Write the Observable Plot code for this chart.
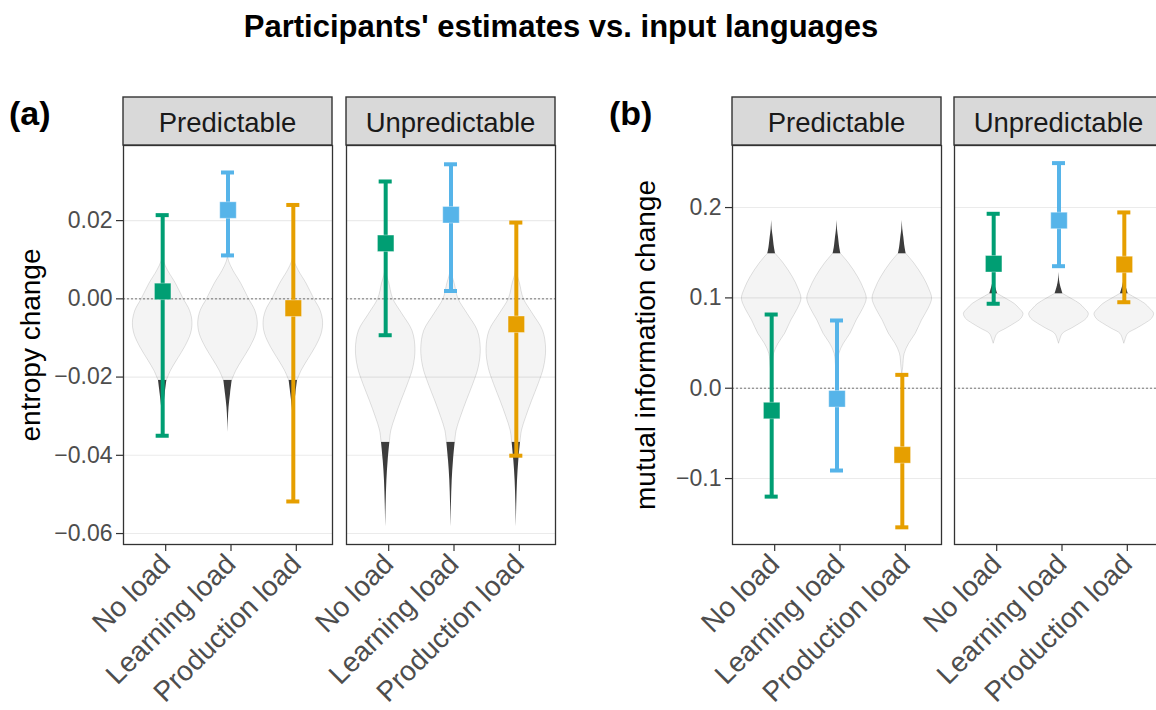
<!DOCTYPE html>
<html>
<head>
<meta charset="utf-8">
<script src="https://cdn.jsdelivr.net/npm/d3@7"></script>
<script src="https://cdn.jsdelivr.net/npm/@observablehq/plot@0.6"></script>
<style>
  body { margin: 0; background: #fff; }
  #root { position: relative; width: 1156px; height: 710px; overflow: hidden; background: #fff;
          font-family: "Liberation Sans", Arial, Helvetica, sans-serif; }
  .title { position: absolute; left: 0; width: 1122px; top: 11px; text-align: center;
           font-weight: bold; font-size: 31px; line-height: 31px; color: #000; }
  .tag { position: absolute; font-weight: bold; font-size: 34px; line-height: 34px; color: #000; }
</style>
</head>
<body>
<div id="root">
  <div class="title">Participants' estimates vs. input languages</div>
  <div class="tag" style="left:9px; top:96px;">(a)</div>
  <div class="tag" style="left:609px; top:96px;">(b)</div>
</div>
<script>
// ---------------- data ----------------
const loads = ["No load", "Learning load", "Production load"];
const loadColors = ["#009E73", "#56B4E9", "#E69F00"];
const conditions = ["Predictable", "Unpredictable"];

// panel (a): entropy change — estimates with interval ends
const entropyPredEst = [0.0019, 0.0227, -0.0024];
const entropyPredLo  = [-0.0350, 0.0111, -0.0518];
const entropyPredHi  = [0.0214, 0.0323, 0.0240];
const entropyUnpEst  = [0.0142, 0.0215, -0.0065];
const entropyUnpLo   = [-0.0093, 0.0020, -0.0401];
const entropyUnpHi   = [0.0300, 0.0344, 0.0195];

// panel (b): mutual information change
const miPredEst = [-0.0247, -0.0117, -0.0738];
const miPredLo  = [-0.1200, -0.0911, -0.1540];
const miPredHi  = [0.0816, 0.0750, 0.0148];
const miUnpEst  = [0.1378, 0.1857, 0.1370];
const miUnpLo   = [0.0935, 0.1351, 0.0952];
const miUnpHi   = [0.1931, 0.2492, 0.1946];

// input-language distributions (violins): value and relative density, body + dark tail
const entropyPredBodyY = [0.0110, 0.0095, 0.0072, 0.0038, 0.0000, -0.0031, -0.0061, -0.0090, -0.0124, -0.0158, -0.0184, -0.0209];
const entropyPredBodyW = [0, 0.04, 0.18, 0.45, 0.70, 0.92, 1.0, 0.95, 0.75, 0.48, 0.28, 0.14];
const entropyPredTailY = [-0.0209, -0.0243, -0.0278, -0.0310, -0.0342];
const entropyPredTailW = [0.14, 0.085, 0.035, 0.012, 0];

const entropyUnpBodyY = [0.0077, 0.0058, 0.0040, 0.0000, -0.0039, -0.0082, -0.0129, -0.0176, -0.0218, -0.0261, -0.0303, -0.0337, -0.0367];
const entropyUnpBodyW = [0, 0.05, 0.12, 0.25, 0.56, 0.90, 1.0, 0.93, 0.75, 0.53, 0.33, 0.19, 0.14];
const entropyUnpTailY = [-0.0367, -0.0414, -0.0465, -0.0524, -0.0584];
const entropyUnpTailW = [0.14, 0.083, 0.04, 0.015, 0];

const miPredBodyY = [0.1488, 0.1378, 0.1229, 0.1101, 0.0990, 0.0879, 0.0750, 0.0602, 0.0492, 0.0381, 0.0233, 0.0150];
const miPredBodyW = [0.13, 0.41, 0.71, 0.90, 1.0, 0.88, 0.66, 0.45, 0.23, 0.08, 0.03, 0];
const miPredTailY = [0.1860, 0.1750, 0.1672, 0.1560, 0.1488];
const miPredTailW = [0, 0.02, 0.05, 0.09, 0.13];

const miUnpBodyY = [0.1045, 0.0990, 0.0934, 0.0879, 0.0824, 0.0768, 0.0713, 0.0658, 0.0602, 0.0528, 0.0492];
const miUnpBodyW = [0.13, 0.42, 0.70, 0.87, 1.0, 0.93, 0.70, 0.42, 0.13, 0.034, 0];
const miUnpTailY = [0.1285, 0.1190, 0.1137, 0.1090, 0.1045];
const miUnpTailW = [0, 0.02, 0.05, 0.09, 0.13];

// axes
const entropyTicks = [0.02, 0.00, -0.02, -0.04, -0.06];
const entropyDomain = [-0.0628, 0.0392];
const miTicks = [0.2, 0.1, 0.0, -0.1];
const miDomain = [-0.1730, 0.2687];

// ---------------- drawing ----------------
const FONT = '"Liberation Sans", Arial, Helvetica, sans-serif';
const VIOLIN_HALF = 0.456;
const CAP_HALF = 0.1;
const PANEL_W = 209;

function estRows(est, lo, hi) {
  return loads.map((load, i) => ({load, pos: i + 1, est: est[i], lo: lo[i], hi: hi[i]}));
}
function violinRows(ys, ws) {
  return loads.flatMap((load, i) => ys.map((y, k) => ({pos: i + 1, y, w: ws[k]})));
}

function facet({cond, left, ml, showY, yLabel, labelDx, yDomain, yTicks, yFmt, rows, body, tail}) {
  const marks = [
    Plot.gridY(yTicks, {stroke: "#EBEBEB", strokeOpacity: 1, strokeWidth: 1.1}),
    Plot.areaX(body, {y: "y", x1: d => d.pos - d.w * VIOLIN_HALF, x2: d => d.pos + d.w * VIOLIN_HALF,
      z: "pos", curve: "catmull-rom", fill: "#000", fillOpacity: 0.045,
      stroke: "#000", strokeOpacity: 0.2, strokeWidth: 0.6}),
    Plot.areaX(tail, {y: "y", x1: d => d.pos - d.w * VIOLIN_HALF, x2: d => d.pos + d.w * VIOLIN_HALF,
      z: "pos", curve: "catmull-rom", fill: "#3c3c3c"}),
    Plot.ruleY([0], {stroke: "#666", strokeWidth: 0.9, strokeDasharray: "2,2"}),
    Plot.ruleX(rows, {x: "pos", y1: "lo", y2: "hi", stroke: "load", strokeWidth: 4}),
    Plot.ruleY(rows, {y: "hi", x1: d => d.pos - CAP_HALF, x2: d => d.pos + CAP_HALF, stroke: "load", strokeWidth: 4}),
    Plot.ruleY(rows, {y: "lo", x1: d => d.pos - CAP_HALF, x2: d => d.pos + CAP_HALF, stroke: "load", strokeWidth: 4}),
    Plot.dot(rows, {x: "pos", y: "est", symbol: "square", r: 9.3, fill: "load",
      stroke: "white", strokeOpacity: 0.35, strokeWidth: 1}),
    Plot.frame({stroke: "#333", strokeWidth: 1.3}),
    Plot.axisX([1, 2, 3], {tickFormat: d => loads[d - 1], tickRotate: -45, fontSize: 28,
      tickSize: 7, tickPadding: 8, dx: 3, color: "#4D4D4D", stroke: "#333", strokeWidth: 1.2, label: null})
  ];
  if (showY) {
    marks.push(
      Plot.axisY(yTicks, {tickFormat: yFmt, fontSize: 23, tickSize: 7, tickPadding: 4,
        color: "#4D4D4D", stroke: "#333", strokeWidth: 1.2, label: null}),
      Plot.text([yLabel], {text: d => d, frameAnchor: "left", textAnchor: "middle", rotate: -90, dx: labelDx,
        fontSize: 28, fill: "#000"})
    );
  }
  const svg = Plot.plot({
    width: ml + PANEL_W + 2,
    height: 710,
    marginTop: 145, marginBottom: 166, marginLeft: ml, marginRight: 2,
    x: {domain: [0.4, 3.6]},
    y: showY ? {domain: yDomain} : {domain: yDomain, axis: null},
    color: {domain: loads, range: loadColors},
    style: {background: "transparent", fontFamily: FONT, overflow: "visible"},
    marks
  });
  const s = d3.select(svg);
  s.append("rect").attr("x", ml).attr("y", 97).attr("width", PANEL_W).attr("height", 48)
    .attr("fill", "#D9D9D9").attr("stroke", "#333").attr("stroke-width", 1.4);
  s.append("text").attr("x", ml + PANEL_W / 2).attr("y", 131.5)
    .attr("text-anchor", "middle").attr("font-size", 27.5).attr("fill", "#1A1A1A")
    .attr("font-family", FONT).text(cond);
  svg.style.position = "absolute";
  svg.style.left = left + "px";
  svg.style.top = "0px";
  svg.style.maxWidth = "none";
  document.getElementById("root").appendChild(svg);
}

const fmtA = d3.format(".2f");
const fmtB = d3.format(".1f");

facet({cond: conditions[0], left: 0, ml: 123, showY: true, yLabel: "entropy change", labelDx: -92,
  yDomain: entropyDomain, yTicks: entropyTicks, yFmt: fmtA,
  rows: estRows(entropyPredEst, entropyPredLo, entropyPredHi),
  body: violinRows(entropyPredBodyY, entropyPredBodyW), tail: violinRows(entropyPredTailY, entropyPredTailW)});
facet({cond: conditions[1], left: 344, ml: 2, showY: false,
  yDomain: entropyDomain, yTicks: entropyTicks, yFmt: fmtA,
  rows: estRows(entropyUnpEst, entropyUnpLo, entropyUnpHi),
  body: violinRows(entropyUnpBodyY, entropyUnpBodyW), tail: violinRows(entropyUnpTailY, entropyUnpTailW)});
facet({cond: conditions[0], left: 600, ml: 132, showY: true, yLabel: "mutual information change", labelDx: -86,
  yDomain: miDomain, yTicks: miTicks, yFmt: fmtB,
  rows: estRows(miPredEst, miPredLo, miPredHi),
  body: violinRows(miPredBodyY, miPredBodyW), tail: violinRows(miPredTailY, miPredTailW)});
facet({cond: conditions[1], left: 952, ml: 2, showY: false,
  yDomain: miDomain, yTicks: miTicks, yFmt: fmtB,
  rows: estRows(miUnpEst, miUnpLo, miUnpHi),
  body: violinRows(miUnpBodyY, miUnpBodyW), tail: violinRows(miUnpTailY, miUnpTailW)});
</script>
</body>
</html>
